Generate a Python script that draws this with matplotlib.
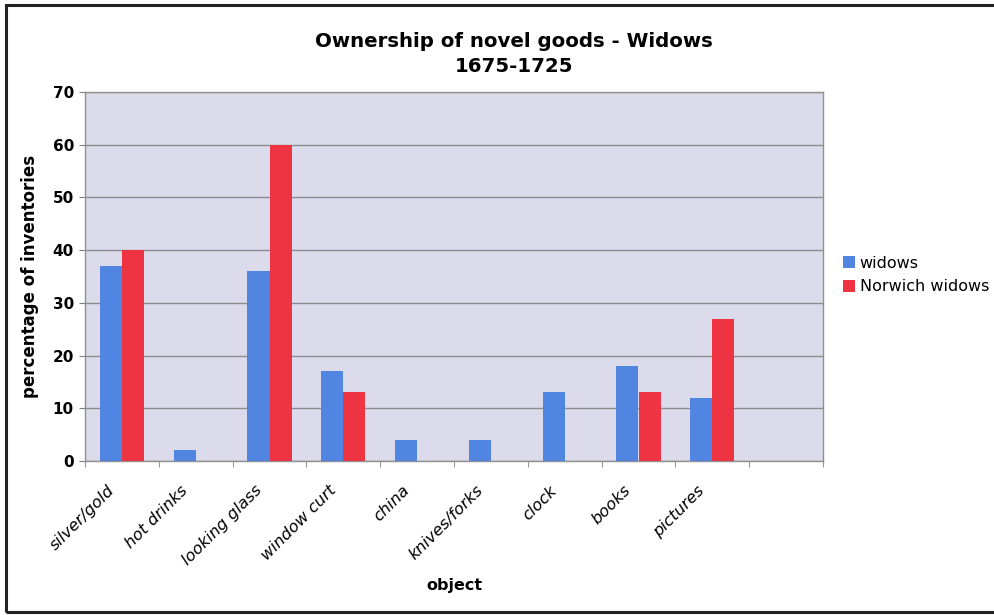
"""Ownership of novel goods - Widows, 1675-1725."""

import matplotlib

matplotlib.use("Agg")
import matplotlib.pyplot as plt
import matplotlib.transforms as mtransforms
import numpy as np
from matplotlib.patches import Rectangle

categories = ["silver/gold", "hot drinks", "looking glass", "window curt", "china",
              "knives/forks", "clock", "books", "pictures"]
widows = [37, 2, 36, 17, 4, 4, 13, 18, 12]
norwich_widows = [40, 0, 60, 13, 0, 0, 0, 13, 27]
n_slots = 10  # Excel left one empty slot after "pictures"

BLUE = "#5086e2"
RED = "#ee3443"
PLOT_BG = "#dcdbec"

plt.rcParams["font.family"] = "DejaVu Sans"

fig = plt.figure(figsize=(9.94, 6.15), dpi=100)
ax = fig.add_axes([85 / 994, 0.2504, (823 - 85) / 994, 0.600])
ax.set_facecolor(PLOT_BG)

x = np.arange(len(categories))
w = 0.3
ax.bar(x - w / 2, widows, w, color=BLUE, label="widows", zorder=3)
ax.bar(x + w / 2, norwich_widows, w, color=RED, label="Norwich widows", zorder=3)

ax.set_xlim(-0.5, n_slots - 0.5)
ax.set_ylim(0, 70)
ax.set_yticks(range(0, 71, 10))
ax.tick_params(axis="y", labelsize=11, length=4, color="#808080", pad=4)
for t in ax.get_yticklabels():
    t.set_fontweight("bold")
ax.grid(True, axis="y", color="#8c8c8c", linewidth=1, zorder=1)

ax.set_xticks(x)
ax.set_xticklabels(categories, rotation=45, ha="right", va="center",
                   rotation_mode="anchor", fontstyle="italic", fontsize=11.7)
ax.tick_params(axis="x", which="major", length=0, pad=19.5)
ax.set_xticks(np.arange(-0.5, n_slots, 1.0), minor=True)
ax.tick_params(axis="x", which="minor", length=4, color="#808080")

for s in ax.spines.values():
    s.set_color("#909090")
    s.set_linewidth(1)

ax.set_ylabel("percentage of inventories", fontsize=12, fontweight="bold", labelpad=10)
ax.set_xlabel("object", fontsize=11.5, fontweight="bold")
ax.xaxis.set_label_coords(0.5, -(585 - 461) / 369)
ax.xaxis.label.set_va("center")

fig.text(514 / 994, 1 - 54 / 615, "Ownership of novel goods - Widows\n1675-1725", ha="center",
         va="center", fontsize=14.2, fontweight="bold", linespacing=1.4)

fig.legend(loc="center left", bbox_to_anchor=(843 / 994, 1 - 275 / 615), frameon=False,
           fontsize=11.5, handlelength=0.75, handleheight=0.75, handletextpad=0.3,
           borderpad=0, borderaxespad=0, labelspacing=0.55)

# outer chart frame (right edge falls outside the picture)
fig.patches.append(Rectangle((0.006, 0.005), 1.1, 0.987, transform=fig.transFigure,
                             fill=False, edgecolor="#222222", linewidth=2.2))

# nudge the slanted category labels left, as Excel places them
fig.canvas.draw()
shift = mtransforms.ScaledTranslation(-10 / 100, 0, fig.dpi_scale_trans)
for t in ax.get_xticklabels():
    t.set_transform(t.get_transform() + shift)

fig.savefig("out.png", dpi=100)
